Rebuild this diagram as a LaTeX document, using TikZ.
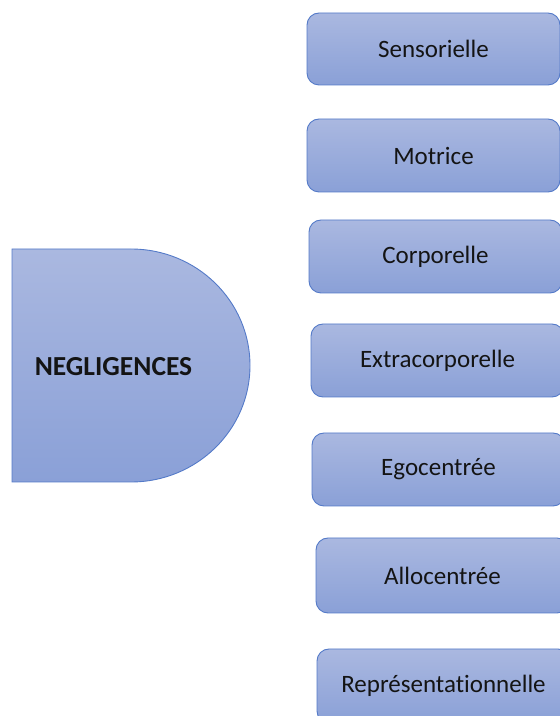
\documentclass[tikz,border=0pt]{standalone}
\usepackage{fontspec}
\setmainfont{Carlito}[Ligatures=NoCommon]
\definecolor{topc}{RGB}{170,184,224}
\definecolor{botc}{RGB}{138,160,215}
\definecolor{edgec}{RGB}{84,122,200}
\definecolor{txtc}{RGB}{20,20,20}
\tikzset{
  itembox/.style={draw=edgec, line width=0.9pt, rounded corners=12pt,
    top color=topc, bottom color=botc, minimum width=253pt, minimum height=72pt,
    inner sep=0pt, text=txtc, font=\fontsize{25}{30}\selectfont},
}
\begin{document}
\begin{tikzpicture}[x=1pt,y=1pt]
\useasboundingbox (0,0) rectangle (560,716);
\clip (0,0) rectangle (560,716);
% delay shape
\path[draw=edgec, line width=0.9pt, top color=topc, bottom color=botc]
  (12,467) -- (131,467) arc[start angle=90, end angle=-90, x radius=119, y radius=116.5]
  -- (12,234) -- cycle;
\node[text=txtc, font=\bfseries\fontsize{27.5}{32}\selectfont] (neg) at (113.5,349) {NEGLIGENCES};
\node[itembox] (b1) at (433.5,667) {Sensorielle};
\node[itembox, minimum height=73pt] (b2) at (433.5,560.5) {Motrice};
\node[itembox, minimum height=73pt] (b3) at (435.5,459.5) {Corporelle};
\node[itembox, minimum height=73pt] (b4) at (437.5,355.5) {Extracorporelle};
\node[itembox, minimum height=73pt] (b5) at (438.5,246.5) {Egocentrée};
\node[itembox, minimum height=75pt] (b6) at (442.5,140.5) {Allocentrée};
\node[itembox, minimum height=74pt] (b7) at (443.5,30) {Représentationnelle};
\end{tikzpicture}
\end{document}
